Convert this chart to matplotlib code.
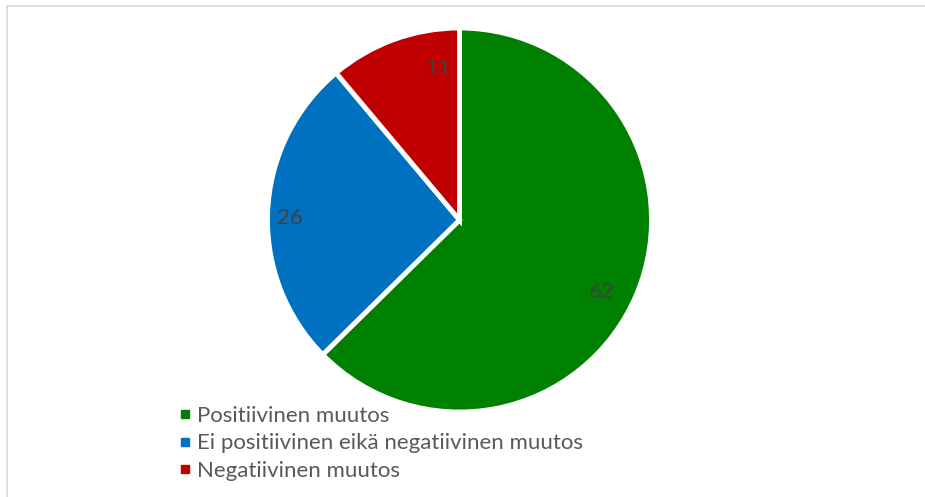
import matplotlib.pyplot as plt
from matplotlib.lines import Line2D
import numpy as np

# ── Datos ─────────────────────────────────────────────────────────────────────
categorias = ["Positiivinen muutos",
              "Ei positiivinen eikä negatiivinen muutos",
              "Negatiivinen muutos"]
valores = [62, 26, 11]
colores = ["#008000", "#0070C0", "#C00000"]

W, H = 925, 497
fig = plt.figure(figsize=(W / 100, H / 100), dpi=100)
ax = fig.add_axes([0, 0, 1, 1])

cx, cy, r = 459.5, H - 220, 192
wedges, _ = ax.pie(valores, colors=colores, startangle=90, counterclock=False,
                   center=(cx, cy), radius=r,
                   wedgeprops=dict(edgecolor="white", linewidth=3.5))

# etiquetas de valor (posición relativa al centro, en fracciones del radio)
pos_etiquetas = [(-26.9, 0.83), (179.3, 0.885), (98.0, 0.80)]
for v, (ang, dist) in zip(valores, pos_etiquetas):
    a = np.deg2rad(ang)
    ax.text(cx + dist * r * np.cos(a), cy + dist * r * np.sin(a), str(v),
            ha="center", va="center", fontsize=16, color="#404040", family="Lato")

ax.set_xlim(0, W)
ax.set_ylim(0, H)
ax.set_aspect("auto")
ax.axis("off")

# marco del gráfico (solo arriba e izquierda visibles)
ax.plot([7, W], [H - 6, H - 6], color="#d9d9d9", lw=1.2, clip_on=False)
ax.plot([7, 7], [0, H - 6], color="#d9d9d9", lw=1.2, clip_on=False)

handles = [Line2D([], [], marker="s", linestyle="none", markersize=6,
                  markerfacecolor=c, markeredgecolor=c) for c in colores]
leg = fig.legend(handles, categorias, loc="upper left",
                 bbox_to_anchor=(168 / W, 1 - 395 / H), frameon=False,
                 handlelength=0.55, handletextpad=0.25, labelspacing=0.33,
                 borderpad=0, prop={"family": "Lato", "size": 16})
for t in leg.get_texts():
    t.set_color("#595959")

fig.savefig("out.png", dpi=100)
